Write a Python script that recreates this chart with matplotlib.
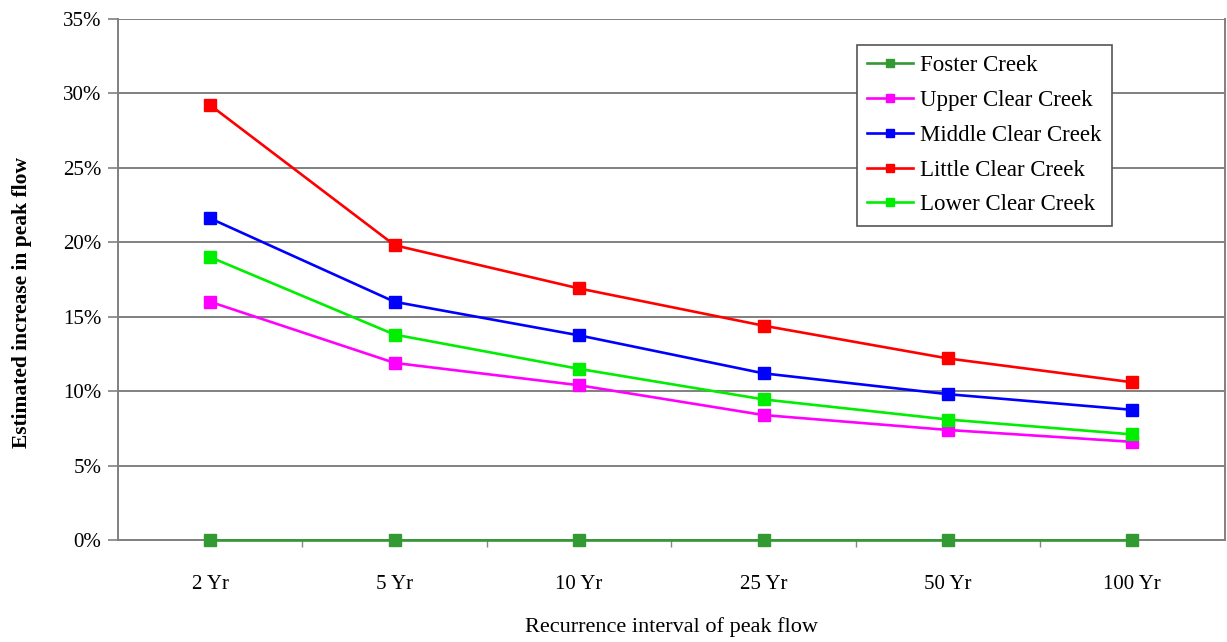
import matplotlib
matplotlib.use("Agg")
import matplotlib.pyplot as plt
from matplotlib.ticker import FuncFormatter, FixedLocator

categories = ["2 Yr", "5 Yr", "10 Yr", "25 Yr", "50 Yr", "100 Yr"]
foster = [0.0, 0.0, 0.0, 0.0, 0.0, 0.0]
upper = [16.0, 11.9, 10.4, 8.4, 7.4, 6.6]
middle = [21.6, 16.0, 13.75, 11.2, 9.8, 8.75]
little = [29.2, 19.8, 16.9, 14.4, 12.2, 10.6]
lower = [19.0, 13.8, 11.5, 9.45, 8.1, 7.1]

series = [
    ("Foster Creek", foster, "#339933"),
    ("Upper Clear Creek", upper, "#FF00FF"),
    ("Middle Clear Creek", middle, "#0000FF"),
    ("Little Clear Creek", little, "#FF0000"),
    ("Lower Clear Creek", lower, "#00EE00"),
]

plt.rcParams['font.family'] = ['Liberation Serif', 'DejaVu Serif']

fig = plt.figure(figsize=(12.27, 6.42), dpi=100)
ax = fig.add_axes([0.0962, 0.1586, 0.9018, 0.8121])

x = list(range(len(categories)))
for name, vals, col in series:
    ax.plot(x, vals, color=col, lw=1.9, marker='s', markersize=8.5,
            markeredgecolor=col, markerfacecolor=col, label=name, clip_on=False, zorder=3)

ax.set_xlim(-0.5, len(categories) - 0.5)
ax.set_ylim(0, 35)
ax.set_yticks(range(0, 36, 5))
ax.yaxis.set_major_formatter(FuncFormatter(lambda v, p: f"{int(v)}%"))
ax.set_xticks(x)
ax.set_xticklabels(categories)
ax.xaxis.set_minor_locator(FixedLocator([i + 0.5 for i in range(len(categories) - 1)]))
ax.tick_params(axis='x', which='major', length=0, pad=25, labelsize=15)
ax.tick_params(axis='x', which='minor', length=5, width=1, color='#888888', direction='out')
ax.tick_params(axis='y', which='major', length=7, width=1.2, color='#808080', labelsize=15, pad=5)

ax.grid(axis='y', color='#808080', lw=1.4)
ax.set_axisbelow(True)
for s in ['left', 'bottom', 'right', 'top']:
    ax.spines[s].set_color('#808080')
    ax.spines[s].set_linewidth(1.4)
ax.spines['top'].set_visible(False)

ax.set_ylabel("Estimated increase in peak flow", fontsize=15.5, fontweight='bold')
ax.yaxis.set_label_coords(-0.078, 0.455)
ax.set_xlabel("Recurrence interval of peak flow", fontsize=16, labelpad=17)

leg = ax.legend(loc='upper left', bbox_to_anchor=(0.668, 0.95), fontsize=16.5,
                frameon=True, fancybox=False, edgecolor='#555555', framealpha=1,
                handlelength=2.0, handletextpad=0.3, borderpad=0.45, labelspacing=0.6,
                borderaxespad=0, markerscale=0.75)
leg.get_frame().set_linewidth(1.2)

fig.savefig("out.png", dpi=100, facecolor='white')
